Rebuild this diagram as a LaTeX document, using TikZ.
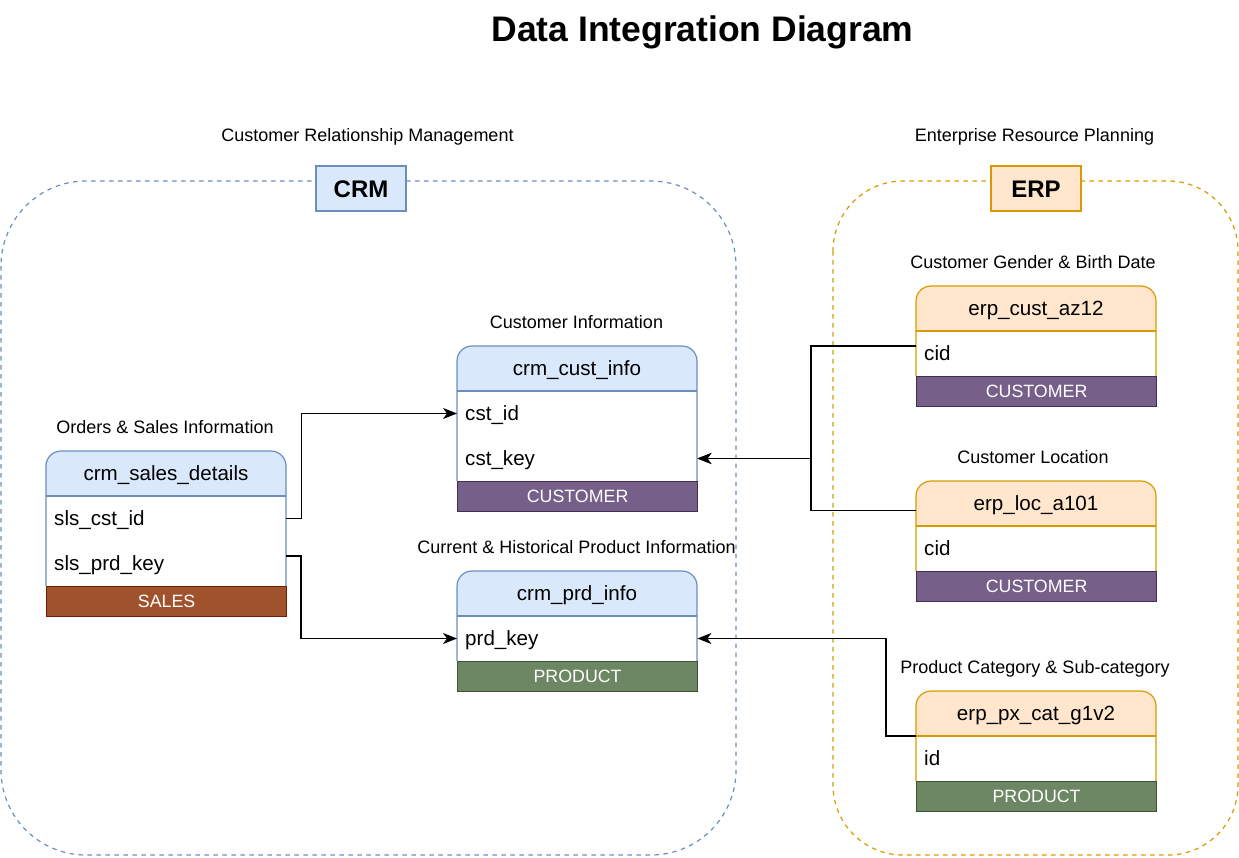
\documentclass[tikz,border=0pt]{standalone}
\usepackage{fontspec}
\setmainfont{Liberation Sans}
\usetikzlibrary{arrows.meta}
\definecolor{crmfill}{HTML}{DAE8FC}
\definecolor{crmdraw}{HTML}{6C8EBF}
\definecolor{erpfill}{HTML}{FFE6CC}
\definecolor{erpdraw}{HTML}{D79B00}
\definecolor{custfill}{HTML}{76608A}
\definecolor{custdraw}{HTML}{432D57}
\definecolor{prodfill}{HTML}{6D8764}
\definecolor{proddraw}{HTML}{3A5431}
\definecolor{salesfill}{HTML}{A0522D}
\definecolor{salesdraw}{HTML}{6D1F00}
\tikzset{
  tbline/.style={line width=1.2pt},
  tabtitle/.style={inner sep=0pt, font=\fontsize{20.6}{24}\selectfont, text height=14.7pt, text depth=0pt},
  rowfield/.style={anchor=west, inner xsep=8pt, inner ysep=0pt, text width=224pt, align=left,
    minimum height=45pt, text height=14.7pt, text depth=0pt, font=\fontsize{20.6}{24}\selectfont},
  footer/.style={inner sep=0pt, minimum width=240pt, minimum height=30pt, text=white, line width=1.2pt,
    font=\fontsize{17.8}{21}\selectfont, text height=12.7pt, text depth=0pt},
  footcust/.style={footer, fill=custfill, draw=custdraw},
  footprod/.style={footer, fill=prodfill, draw=proddraw},
  footsales/.style={footer, fill=salesfill, draw=salesdraw},
  lbl/.style={inner sep=0pt, font=\fontsize{18}{22}\selectfont, text height=12.9pt, text depth=0pt},
  grouplabel/.style={minimum width=90pt, minimum height=45pt, inner sep=0pt, line width=1.2pt,
    font=\bfseries\fontsize{24}{28}\selectfont, text height=17.2pt, text depth=0pt},
  groupbox/.style={dashed, dash pattern=on 4.5pt off 4.5pt, line width=1.2pt},
  conn/.style={draw=black, line width=1.4pt, -{Stealth[length=14pt,width=11pt,inset=4pt]}},
}
% #1 name, #2 x, #3 y, #4 rows, #5 head fill, #6 head draw, #7 title, #8 footer style, #9 footer text
\newcommand{\dbtable}[9]{%
  \pgfmathsetmacro{\tbxr}{#2+240}%
  \pgfmathsetmacro{\tbyh}{#3+45}%
  \pgfmathsetmacro{\tbyf}{#3+45+45*#4}%
  \fill[#5] (#2,\tbyh) -- (#2,#3+15) .. controls (#2,#3+6.7) and (#2+6.7,#3) .. (#2+15,#3)
     -- (\tbxr-15,#3) .. controls (\tbxr-6.7,#3) and (\tbxr,#3+6.7) .. (\tbxr,#3+15) -- (\tbxr,\tbyh) -- cycle;
  \fill[white] (#2,\tbyh) rectangle (\tbxr,\tbyf);
  \draw[tbline,#6] (#2,\tbyf) -- (#2,#3+15) .. controls (#2,#3+6.7) and (#2+6.7,#3) .. (#2+15,#3)
     -- (\tbxr-15,#3) .. controls (\tbxr-6.7,#3) and (\tbxr,#3+6.7) .. (\tbxr,#3+15) -- (\tbxr,\tbyf);
  \draw[tbline,#6] (#2,\tbyh) -- (\tbxr,\tbyh);
  \node[tabtitle] (#1) at (#2+120,#3+22.5) {#7};
  \node[#8, anchor=north west] (#1-foot) at (#2,\tbyf) {#9};
}
\begin{document}
\begin{tikzpicture}[x=1pt,y=-1pt]
\useasboundingbox (0,0) rectangle (1239,857);

% title
\node[inner sep=0pt, font=\bfseries\fontsize{35.5}{42}\selectfont, text height=25pt, text depth=0pt] (title) at (702.5,29.4) {Data Integration Diagram};

% group containers
\draw[groupbox, draw=crmdraw, rounded corners=85pt] (1,181) rectangle (736,855);
\draw[groupbox, draw=erpdraw, rounded corners=70pt] (833,181) rectangle (1238,855);
\node[grouplabel, fill=crmfill, draw=crmdraw] (crm) at (361,188.5) {CRM};
\node[grouplabel, fill=erpfill, draw=erpdraw] (erp) at (1036,188.5) {ERP};
\node[lbl] (crmlbl) at (367.5,135) {Customer Relationship Management};
\node[lbl] (erplbl) at (1034.5,135) {Enterprise Resource Planning};

% CRM tables
\node[lbl] (l1) at (165,427.5) {Orders \& Sales Information};
\dbtable{sales}{46}{451}{2}{crmfill}{draw=crmdraw}{crm\_sales\_details}{footsales}{SALES}
\node[rowfield] (slscstid) at (46,518.5) {sls\_cst\_id};
\node[rowfield] (slsprdkey) at (46,563.5) {sls\_prd\_key};

\node[lbl] (l2) at (576.5,322.5) {Customer Information};
\dbtable{custinfo}{457}{346}{2}{crmfill}{draw=crmdraw}{crm\_cust\_info}{footcust}{CUSTOMER}
\node[rowfield] (cstid) at (457,413.5) {cst\_id};
\node[rowfield] (cstkey) at (457,458.5) {cst\_key};

\node[lbl] (l3) at (576.5,547.5) {Current \& Historical Product Information};
\dbtable{prdinfo}{457}{571}{1}{crmfill}{draw=crmdraw}{crm\_prd\_info}{footprod}{PRODUCT}
\node[rowfield] (prdkey) at (457,638.5) {prd\_key};

% ERP tables
\node[lbl] (l4) at (1033,262.5) {Customer Gender \& Birth Date};
\dbtable{az12}{916}{286}{1}{erpfill}{draw=erpdraw}{erp\_cust\_az12}{footcust}{CUSTOMER}
\node[rowfield] (azcid) at (916,353.5) {cid};

\node[lbl] (l5) at (1033,457.5) {Customer Location};
\dbtable{loc}{916}{481}{1}{erpfill}{draw=erpdraw}{erp\_loc\_a101}{footcust}{CUSTOMER}
\node[rowfield] (loccid) at (916,548.5) {cid};

\node[lbl] (l6) at (1035,667.5) {Product Category \& Sub-category};
\dbtable{pxcat}{916}{691}{1}{erpfill}{draw=erpdraw}{erp\_px\_cat\_g1v2}{footprod}{PRODUCT}
\node[rowfield] (pxid) at (916,758.5) {id};

% ports
\coordinate (prdport) at (286,556);
\coordinate (azport) at (916,346);
\coordinate (locport) at (916,510.5);
\coordinate (pxport) at (916,736);

% connectors
\draw[conn] (slscstid.east) -- ++(15,0) |- (cstid.west);
\draw[conn] (prdport) -- ++(15,0) |- (prdkey.west);
\draw[conn] (azport) -- ++(-105,0) |- (cstkey.east);
\draw[conn] (locport) -- ++(-105,0) |- (cstkey.east);
\draw[conn] (pxport) -- ++(-30,0) |- (prdkey.east);
\end{tikzpicture}
\end{document}
